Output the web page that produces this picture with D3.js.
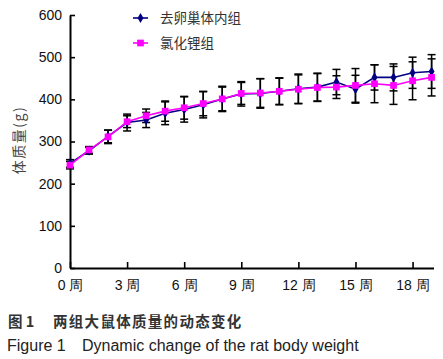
<!DOCTYPE html>
<html>
<head>
<meta charset="utf-8">
<script src="https://cdn.jsdelivr.net/npm/d3@7"></script>
<style>
  body { margin: 0; background: #fff; }
  svg { display: block; font-family: "Liberation Sans", Arial, sans-serif; }
  .axis path, .axis line { stroke: #000; }
  .axis text { fill: #111; font-size: 14px; font-family: "Liberation Sans", Arial, sans-serif; }
</style>
</head>
<body>
<svg width="443" height="359"></svg>
<script>
// **** data ****
var weeks = [0, 1, 2, 3, 4, 5, 6, 7, 8, 9, 10, 11, 12, 13, 14, 15, 16, 17, 18, 19];
var ovxValues = [248, 278, 312, 345, 351, 367, 376, 387, 401, 413, 414, 419, 425, 429, 441, 424, 452, 452, 463, 466];
var ovxSd = [9, 8, 15, 20, 18, 27, 30, 31, 30, 29, 35, 32, 35, 33, 30, 33, 30, 32, 37, 40];
var licValues = [244, 280, 311, 347, 361, 372, 380, 390, 401, 414, 415, 419, 424, 428, 429, 433, 437, 433, 444, 452];
var licSd = [9, 8, 16, 14, 16, 24, 27, 29, 28, 26, 34, 31, 34, 33, 27, 40, 45, 45, 45, 44];
var seriesNames = ["去卵巢体内组", "氯化锂组"];
var xTicks = [0, 3, 6, 9, 12, 15, 18];
var yTicks = [0, 100, 200, 300, 400, 500, 600];

// **** scales and axes ****
var svg = d3.select('svg');

var xScale = d3.scaleLinear().domain([0, 19.1]).range([70, 433.5]);
var yScale = d3.scaleLinear().domain([0, 600]).range([268, 15]);

var xAxis = svg.append('g').attr('class', 'x axis')
    .attr('transform', 'translate(0,268)')
    .call(d3.axisBottom(xScale).tickValues(xTicks)
        .tickSizeInner(-6).tickSizeOuter(0).tickPadding(12)
        .tickFormat(function (d) { return d + ' 周'; }));
xAxis.select('.domain').attr('stroke-width', 2);
xAxis.selectAll('line').attr('stroke-width', 1.6);

var yAxis = svg.append('g').attr('class', 'y axis')
    .attr('transform', 'translate(70,0)')
    .call(d3.axisLeft(yScale).tickValues(yTicks)
        .tickSizeInner(-5).tickSizeOuter(0).tickPadding(8));
yAxis.select('.domain').attr('stroke-width', 2);
yAxis.selectAll('line').attr('stroke-width', 1.6);

svg.append('text')
    .attr('transform', 'translate(19,140) rotate(-90)')
    .attr('text-anchor', 'middle')
    .attr('dy', '0.36em')
    .attr('font-family', '"Noto Sans CJK SC", sans-serif')
    .attr('font-size', 14)
    .attr('letter-spacing', 1.5)
    .attr('fill', '#444')
    .text('体质量(g)');

// **** error bars ****
function drawErrorBars(values, sds) {
    var g = svg.append('g').attr('stroke', '#000').attr('stroke-width', 1.5);
    weeks.forEach(function (w, i) {
        var cx = xScale(w);
        var top = yScale(values[i] + sds[i]);
        var bot = yScale(values[i] - sds[i]);
        g.append('line').attr('x1', cx).attr('x2', cx).attr('y1', top).attr('y2', bot);
        g.append('line').attr('x1', cx - 4).attr('x2', cx + 4).attr('y1', top).attr('y2', top);
        g.append('line').attr('x1', cx - 4).attr('x2', cx + 4).attr('y1', bot).attr('y2', bot);
    });
}
drawErrorBars(ovxValues, ovxSd);
drawErrorBars(licValues, licSd);

// **** lines and markers ****
var line = d3.line()
    .x(function (d) { return xScale(d[0]); })
    .y(function (d) { return yScale(d[1]); });

function drawSeries(values, color, symbol, size) {
    var pts = weeks.map(function (w, i) { return [w, values[i]]; });
    svg.append('path').datum(pts)
        .attr('d', line)
        .attr('fill', 'none')
        .attr('stroke', color)
        .attr('stroke-width', 1.6);
    svg.append('g').selectAll('path').data(pts).enter().append('path')
        .attr('transform', function (d) { return 'translate(' + xScale(d[0]) + ',' + yScale(d[1]) + ')'; })
        .attr('d', d3.symbol().type(symbol).size(size))
        .attr('fill', color);
}
drawSeries(ovxValues, '#000080', d3.symbolDiamond, 30);
drawSeries(licValues, '#ff00ff', d3.symbolSquare, 45);

// **** legend ****
var legend = [
    { name: seriesNames[0], color: '#000080', symbol: d3.symbolDiamond, size: 30, y: 18 },
    { name: seriesNames[1], color: '#ff00ff', symbol: d3.symbolSquare, size: 45, y: 43 }
];
legend.forEach(function (l) {
    svg.append('line').attr('x1', 133).attr('x2', 148).attr('y1', l.y).attr('y2', l.y)
        .attr('stroke', l.color).attr('stroke-width', 1.6);
    svg.append('path').attr('transform', 'translate(140.5,' + l.y + ')')
        .attr('d', d3.symbol().type(l.symbol).size(l.size)).attr('fill', l.color);
    svg.append('text').attr('x', 160).attr('y', l.y).attr('dy', '0.36em')
        .attr('font-family', '"Noto Sans CJK SC", sans-serif')
        .attr('font-size', 13.5).attr('fill', '#333')
        .text(l.name);
});

// **** captions ****
var cn = svg.append('g')
    .attr('font-family', '"Noto Sans CJK SC", sans-serif')
    .attr('font-size', 14.5).attr('font-weight', 'bold').attr('fill', '#333');
cn.append('text').attr('x', 8).attr('y', 322).attr('dy', '0.36em').text('图 1');
cn.append('text').attr('x', 53).attr('y', 322).attr('dy', '0.36em')
    .attr('letter-spacing', 1.3)
    .text('两组大鼠体质量的动态变化');

var en = svg.append('g').attr('font-size', 16).attr('fill', '#222');
en.append('text').attr('x', 7).attr('y', 345).attr('dy', '0.36em').text('Figure 1');
en.append('text').attr('x', 82).attr('y', 345).attr('dy', '0.36em')
    .text('Dynamic change of the rat body weight');
</script>
</body>
</html>
